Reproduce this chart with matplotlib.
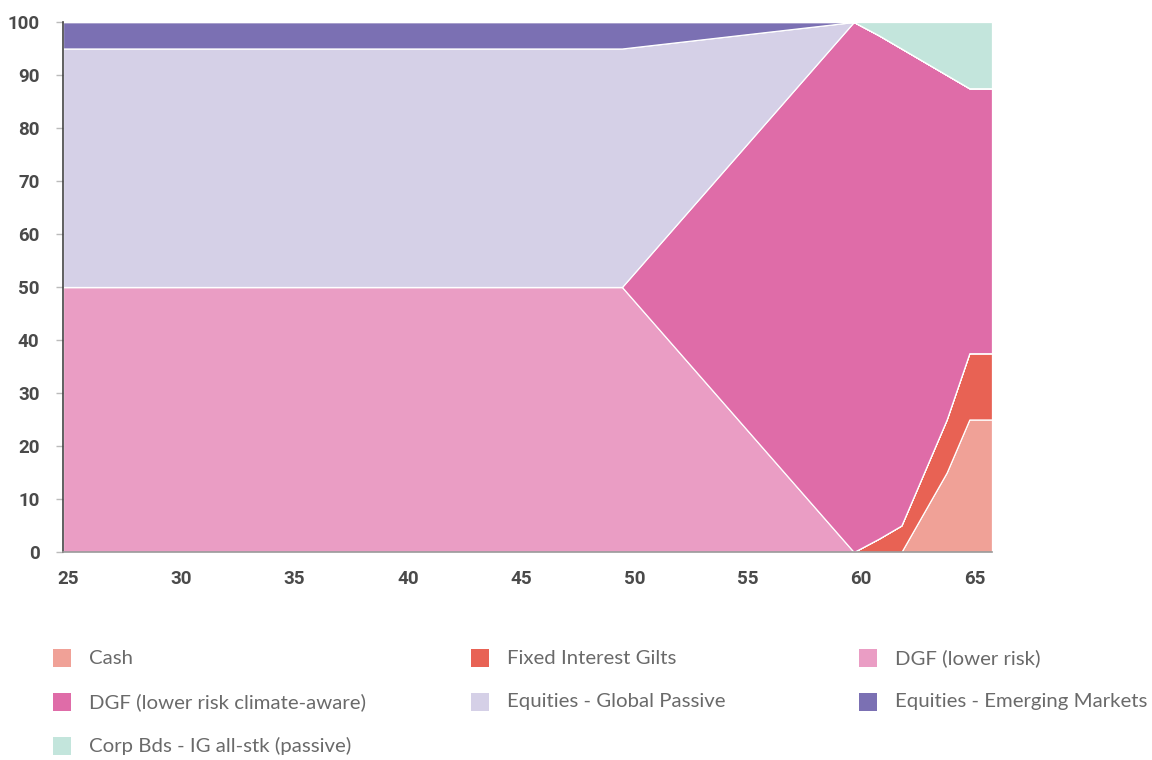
import matplotlib
matplotlib.use("Agg")
import matplotlib.pyplot as plt
import matplotlib.transforms as mtransforms
from matplotlib.patches import Rectangle

# Glide path: allocation (%) by age
ages = [25, 49.67, 59.9, 61, 62, 63, 64, 65, 66]

cash = [0, 0, 0, 0, 0, 7.5, 15, 25, 25]
gilts = [0, 0, 0, 2.5, 5, 7.5, 10, 12.5, 12.5]
dgf_lower = [50, 50, 0, 0, 0, 0, 0, 0, 0]
dgf_climate = [0, 0, 100, 95, 90, 77.5, 65, 50, 50]
eq_global = [45, 45, 0, 0, 0, 0, 0, 0, 0]
eq_emerging = [5, 5, 0, 0, 0, 0, 0, 0, 0]
corp_bonds = [0, 0, 0, 2.5, 5, 7.5, 10, 12.5, 12.5]

series_names = [
    "Cash",
    "Fixed Interest Gilts",
    "DGF (lower risk)",
    "DGF (lower risk climate-aware)",
    "Equities - Global Passive",
    "Equities - Emerging Markets",
    "Corp Bds - IG all-stk (passive)",
]
series_colors = ["#F0A197", "#E86254", "#EA9DC4", "#DF6CA8",
                 "#D5D0E7", "#7B70B3", "#C3E5DC"]

x_ticks = [25, 30, 35, 40, 45, 50, 55, 60, 65]
y_ticks = [0, 10, 20, 30, 40, 50, 60, 70, 80, 90, 100]

W, H = 1152, 760
fig = plt.figure(figsize=(W / 100, H / 100), dpi=100)
ax = fig.add_axes([63 / W, 1 - 552 / H, 929 / W, 530 / H])

ax.stackplot(ages, cash, gilts, dgf_lower, dgf_climate, eq_global,
             eq_emerging, corp_bonds, colors=series_colors,
             edgecolor="white", linewidth=0.9)

ax.set_xlim(25, 66)
ax.set_ylim(0, 100)

tick_font = dict(family=["Roboto", "DejaVu Sans"], weight="bold", size=13.5)
ax.set_xticks(x_ticks)
ax.set_xticklabels([str(t) for t in x_ticks], color="#4a4a4a", **tick_font)
ax.set_yticks(y_ticks)
ax.set_yticklabels([str(t) for t in y_ticks], color="#4a4a4a", **tick_font)
ax.tick_params(axis="x", length=0, pad=13)
ax.tick_params(axis="y", length=5, width=1, color="#bbbbbb", pad=12)

shift = mtransforms.ScaledTranslation(5 / 100, 0, fig.dpi_scale_trans)
for lbl in ax.get_xticklabels():
    lbl.set_transform(lbl.get_transform() + shift)

for side in ("top", "right"):
    ax.spines[side].set_visible(False)
ax.spines["left"].set_color("#444444")
ax.spines["left"].set_linewidth(1.2)
ax.spines["bottom"].set_color("#999999")
ax.spines["bottom"].set_linewidth(1.2)

# Legend laid out in three columns under the chart
col_x = [53, 471, 859]
row_y = [658, 702, 746]
box = 18
for i, (name, color) in enumerate(zip(series_names, series_colors)):
    r, c = divmod(i, 3)
    x0 = col_x[c]
    yc = row_y[r]
    fig.patches.append(Rectangle((x0 / W, 1 - (yc + box / 2) / H), box / W, box / H,
                                 transform=fig.transFigure, facecolor=color,
                                 edgecolor="none"))
    fig.text((x0 + 36) / W, 1 - yc / H, name, ha="left", va="center",
             fontsize=14.7, color="#6a6a6a", family=["Lato", "DejaVu Sans"],
             fontweight="normal")

fig.savefig("out.png", dpi=100)
